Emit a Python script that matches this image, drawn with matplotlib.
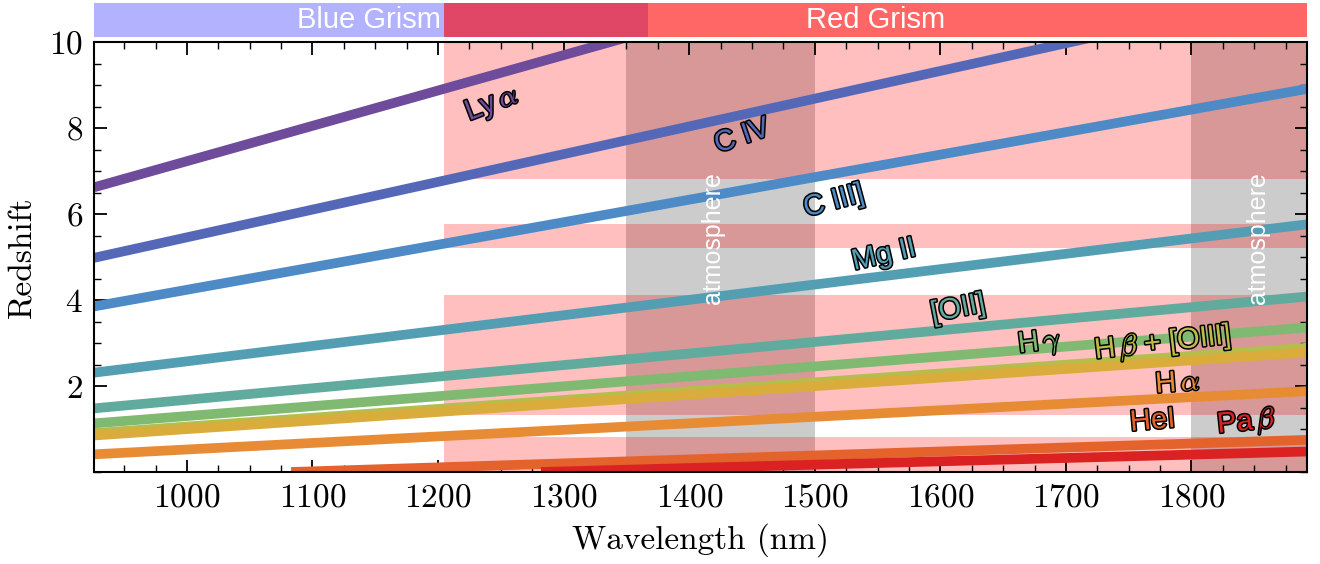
import matplotlib
matplotlib.use("Agg")
import matplotlib.pyplot as plt
import matplotlib.patheffects as pe
from matplotlib.ticker import MultipleLocator

plt.rcParams['font.family'] = 'serif'
plt.rcParams['font.serif'] = ['cmr10']
plt.rcParams['mathtext.fontset'] = 'cm'
plt.rcParams['axes.formatter.use_mathtext'] = True

# ---------------- data ----------------
line_names = ["Lya", "CIV", "CIII]", "MgII", "[OII]", "Hg", "Hb", "[OIII]", "Ha", "HeI", "Pab"]
line_wl_start = [926, 926, 926, 926, 926, 926, 926, 926, 926, 1083, 1282]
line_wl_end = [1892, 1892, 1892, 1892, 1892, 1892, 1892, 1892, 1892, 1892, 1892]
line_z_start = [6.62, 4.98, 3.85, 2.31, 1.48, 1.13, 0.905, 0.849, 0.411, 0.0, 0.0]
line_z_end = [14.56, 11.21, 8.91, 5.76, 4.08, 3.36, 2.89, 2.78, 1.88, 0.747, 0.476]
line_colors = ["#6F4C9B", "#5568B8", "#4D8AC6", "#549EB3", "#60AB9E", "#80B972",
               "#B5BD4C", "#DAAC3C", "#E78C35", "#E4632D", "#DA2222"]

label_texts = [r"Ly$\,\alpha$", "C IV", "C III]", "Mg II", "[OII]", r"H$\,\gamma$",
               r"H$\,\beta$ + [OIII]", r"H$\,\alpha$", "HeI", r"Pa$\,\beta$"]
label_wl = [1243, 1442, 1515, 1555, 1614, 1679, 1777, 1789, 1769, 1844]
label_z = [8.55, 7.81, 6.30, 5.05, 3.80, 3.00, 3.00, 2.07, 1.19, 1.14]
label_colors = ["#6F4C9B", "#5568B8", "#4D8AC6", "#549EB3", "#60AB9E", "#80B972",
                "#BEBC48", "#E78C35", "#E4632D", "#DA2222"]
label_rot = [21, 19, 15, 13, 11, 7, 6.5, 4.5, 5, 6]

band_z_low = [6.81, 5.21, 1.33, 0.0]
band_z_high = [10.0, 5.77, 4.12, 0.82]
band_wl = [1205, 1892]
atmos_lo = [1350, 1800]
atmos_hi = [1500, 1892]
atmos_text_wl = [1419, 1853]

grism_names = ["Blue Grism", "Red Grism"]
grism_lo = [923, 1205]
grism_hi = [1367, 1892]
grism_colors = ["blue", "red"]
grism_alpha = [0.3, 0.6]

# ---------------- figure ----------------
W, H = 1320, 564
fig = plt.figure(figsize=(W / 100, H / 100), dpi=100)
ax = fig.add_axes([94 / W, 1 - 472 / H, (1307 - 94) / W, (472 - 42) / H])
bax = fig.add_axes([94 / W, 1 - 37 / H, (1307 - 94) / W, 34 / H])

xmin, xmax = 926, 1892

# top grism bar
for name, lo, hi, c, a in zip(grism_names, grism_lo, grism_hi, grism_colors, grism_alpha):
    bax.axvspan(lo, hi, color=c, alpha=a, lw=0)
    bax.text((lo + hi) / 2, 0.5, name, color='white', fontsize=21,
             family='Liberation Sans', ha='center', va='center')
bax.set_xlim(xmin, xmax)
bax.set_ylim(0, 1)
bax.axis('off')

# atmosphere columns
for lo, hi, tx in zip(atmos_lo, atmos_hi, atmos_text_wl):
    ax.axvspan(lo, hi, color='#cccccc', lw=0, zorder=0)
    ax.text(tx, 5.45, 'atmosphere', rotation=90, color='white',
            fontsize=18, family='Liberation Sans', ha='center', va='center', zorder=5)

# red grism sensitivity bands
for lo, hi in zip(band_z_low, band_z_high):
    ax.fill_between(band_wl, lo, hi, color='red', alpha=0.25, lw=0, zorder=0.5)

# emission lines
for ws, we, zs, ze, c in zip(line_wl_start, line_wl_end, line_z_start, line_z_end, line_colors):
    ax.plot([ws, we], [zs, ze], color=c, lw=7, solid_capstyle='butt', zorder=2)

# labels
for t, x, y, c, r in zip(label_texts, label_wl, label_z, label_colors, label_rot):
    ax.text(x, y, t, color=c, fontsize=21, family='Liberation Sans', rotation=r,
            ha='center', va='center', zorder=4, rotation_mode='anchor',
            path_effects=[pe.withStroke(linewidth=2.2, foreground='black')])

ax.set_xlim(xmin, xmax)
ax.set_ylim(0, 10)
ax.set_yticks([2, 4, 6, 8, 10])
ax.xaxis.set_major_locator(MultipleLocator(100))
ax.xaxis.set_minor_locator(MultipleLocator(25))
ax.yaxis.set_minor_locator(MultipleLocator(0.5))
ax.tick_params(which='both', direction='in', top=True, right=True, labelsize=24)
ax.tick_params(which='major', length=9, width=1.3, pad=8)
ax.tick_params(which='minor', length=5, width=1.0)
for s in ax.spines.values():
    s.set_linewidth(1.5)
ax.set_xlabel('Wavelength (nm)', fontsize=24, labelpad=8)
ax.set_ylabel('Redshift', fontsize=24, labelpad=8)

fig.savefig('out.png', dpi=100)
